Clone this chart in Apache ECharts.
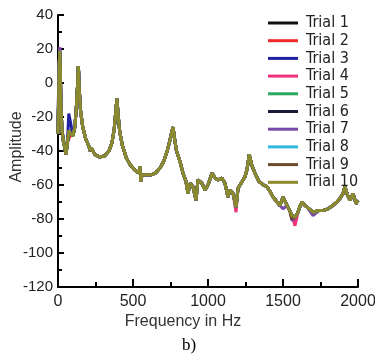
<!DOCTYPE html>
<html>
<head>
<meta charset="utf-8">
<script src="https://cdn.jsdelivr.net/npm/echarts@6/dist/echarts.min.js"></script>
<style>
  html, body { margin: 0; padding: 0; background: #fff; }
  #chart { width: 375px; height: 359px; }
</style>
</head>
<body>
<div id="chart"></div>
<script>
// frequency (Hz) and amplitude of the curve on top (Trial 10)
const freq = [0, 4, 8, 12, 16, 20, 27, 35, 45, 53, 62, 72, 85, 100, 112, 122, 130, 136, 142, 150,
  165, 185, 205, 215, 222, 245, 275, 310, 340, 360, 375, 386, 393, 400, 412, 430, 455, 480, 510, 540,
  547, 552, 560, 590, 620, 650, 680, 705, 728, 745, 758, 767, 776, 790, 813, 833, 853, 867, 880, 900,
  920, 933, 960, 980, 1000, 1027, 1047, 1067, 1093, 1113, 1133, 1147, 1167, 1187, 1200, 1227, 1247, 1260, 1275, 1290,
  1313, 1340, 1370, 1393, 1415, 1433, 1460, 1480, 1500, 1527, 1545, 1560, 1580, 1600, 1615, 1627, 1645, 1660, 1700, 1740,
  1767, 1800, 1833, 1860, 1880, 1900, 1913, 1930, 1947, 1967, 1987, 2000];
const trial10 = [-30, -10, 10, 19, 5, -15, -28, -34, -38, -42, -36, -28, -30, -31, -26, -15, -2, 10, -4, -16,
  -26, -33, -37, -40, -38, -42, -43.5, -43, -40, -35, -27, -16, -9, -18, -29, -37, -44, -48, -51, -53,
  -49, -58, -54, -54, -54, -53, -50, -46, -40, -34, -29, -26, -32, -40, -46, -53, -58, -65, -59, -61,
  -69, -57, -59, -63, -60, -53, -56, -57, -56, -59, -67, -63, -65, -73, -62, -58, -55, -51, -42, -48,
  -53, -58, -60, -61, -64, -67, -70, -72, -67, -72, -75, -78, -79, -76, -72, -70, -72, -73, -76, -75,
  -75, -74, -72, -70, -68, -65, -61, -66, -69, -65, -71, -69];

// where the other trials show from under Trial 10: [Hz, amplitude]
const trial1Changes = [[12, 18], [35, -32]];
const trial2Changes = [[4, -29], [12, 17], [62, -35], [72, -33]];
const trial3Changes = [[4, 0], [12, 20], [72, -18], [85, -24]];
const trial4Changes = [[12, 21], [1187, -76], [1580, -84]];
const trial5Changes = [[12, 19]];
const trial6Changes = [[4, -2], [12, 18]];
const trial7Changes = [[12, 21], [1500, -74], [1560, -81], [1700, -78]];
const trial8Changes = [[12, 19]];
const trial9Changes = [[12, 18], [1560, -80]];

const trialNames = ["Trial 1", "Trial 2", "Trial 3", "Trial 4", "Trial 5", "Trial 6", "Trial 7", "Trial 8", "Trial 9", "Trial 10"];
const trialChanges = [trial1Changes, trial2Changes, trial3Changes, trial4Changes, trial5Changes,
  trial6Changes, trial7Changes, trial8Changes, trial9Changes, []];
const colors = ["#111111", "#ee2a2a", "#2020a0", "#f0307a", "#2aa860", "#1a1a3a", "#7a4aa8", "#30b8e0", "#6b4a2a", "#8c8a2e"];

function trialData(changes) {
  let pts = freq.map((f, i) => [f, trial10[i]]);
  changes.forEach(([f, v]) => {
    let idx = pts.findIndex((p) => p[0] === f);
    if (idx > -1) pts[idx] = [f, v];
    else pts.push([f, v]);
  });
  pts.sort((a, b) => a[0] - b[0]);
  return pts;
}

const labelFont = "Liberation Sans, Arial, sans-serif";

let series = trialNames.map((name, i) => ({
  name: name,
  type: "line",
  data: trialData(trialChanges[i]),
  showSymbol: false,
  lineStyle: { color: colors[i], width: 3 },
  itemStyle: { color: colors[i] },
}));

let chart = echarts.init(document.getElementById("chart"), null, { renderer: "canvas" });
chart.setOption({
  animation: false,
  color: colors,
  grid: { left: 58, right: 17, top: 15, bottom: 72, containLabel: false, outerBoundsMode: "none" },
  legend: {
    orient: "vertical",
    left: 263,
    top: 10,
    icon: "rect",
    itemWidth: 30,
    itemHeight: 3,
    itemGap: 1.7,
    data: trialNames,
    textStyle: {
      fontSize: 16,
      fontFamily: "DejaVu Sans Condensed, Liberation Sans Narrow, Liberation Sans, Arial, sans-serif",
      color: "#222",
      padding: [0, 0, 0, 3],
    },
  },
  xAxis: {
    type: "value",
    min: 0,
    max: 2000,
    interval: 500,
    name: "Frequency in Hz",
    nameLocation: "middle",
    nameGap: 27,
    nameMoveOverlap: false,
    nameTextStyle: { fontSize: 16, fontFamily: labelFont, color: "#333", padding: [0, 50, 0, 0] },
    axisLine: { onZero: false, lineStyle: { color: "#000", width: 2 } },
    axisTick: { inside: true, length: 8, lineStyle: { color: "#000", width: 2 } },
    minorTick: { show: true, splitNumber: 2, length: 5, lineStyle: { color: "#000", width: 2 } },
    splitLine: { show: false },
    axisLabel: { fontSize: 16, fontFamily: labelFont, color: "#222", margin: 7, formatter: (v) => String(v) },
  },
  yAxis: {
    type: "value",
    min: -120,
    max: 40,
    interval: 20,
    name: "Amplitude",
    nameLocation: "middle",
    nameGap: 33,
    nameMoveOverlap: false,
    nameTextStyle: { fontSize: 16, fontFamily: labelFont, color: "#333", padding: [0, 0, 0, 8] },
    axisLine: { onZero: false, lineStyle: { color: "#000", width: 2 } },
    axisTick: { inside: true, length: 6, lineStyle: { color: "#000", width: 2 } },
    minorTick: { show: true, splitNumber: 2, length: 4, lineStyle: { color: "#000", width: 2 } },
    splitLine: { show: false },
    axisLabel: { fontSize: 15, fontFamily: labelFont, color: "#222", margin: 5 },
  },
  graphic: [
    {
      type: "text",
      left: 182,
      top: 337,
      style: { text: "b)", font: "17px 'Liberation Serif', 'Times New Roman', serif", fill: "#000" },
    },
  ],
  series: series,
});
</script>
</body>
</html>
